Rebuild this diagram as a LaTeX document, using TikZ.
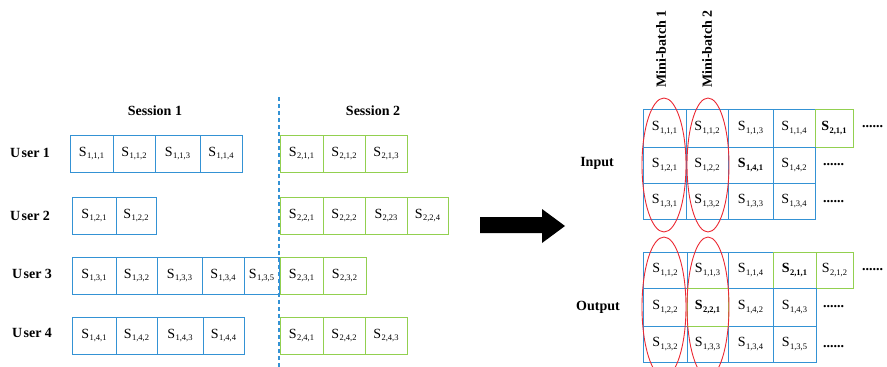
\documentclass[tikz,border=0pt]{standalone}
\usepackage{fontspec}
\setmainfont{Liberation Serif}
\usetikzlibrary{shapes.geometric}
\definecolor{cblue}{RGB}{52,146,212}
\definecolor{cgreen}{RGB}{146,208,80}
\definecolor{cred}{RGB}{235,40,50}

% item label: S with a lowered index triple
\newcommand\sq[1]{S\kern0.3pt\raisebox{-2.4pt}{\fontsize{8.5}{9}\selectfont #1}}
% cell: name, x-left, x-right, y-top, y-bottom, style, index
\newcommand\cellat[7]{%
  \node[#6, minimum width={(#3-#2)*1pt}, minimum height={(#5-#4)*1pt}]
    (#1) at ({(#2+#3)/2},{(#4+#5)/2}) {\sq{#7}};}

\tikzset{
  cellbase/.style={inner sep=0pt, line width=1pt, font=\fontsize{14}{16}\selectfont},
  bc/.style={cellbase, draw=cblue},
  gc/.style={cellbase, draw=cgreen},
  bcb/.style={bc, font=\fontsize{14}{16}\selectfont\bfseries},
  gcb/.style={gc, font=\fontsize{14}{16}\selectfont\bfseries},
  lbl/.style={font=\fontsize{14}{16}\selectfont\bfseries, inner sep=0pt},
  dots/.style={font=\fontsize{14}{16}\selectfont\bfseries, inner sep=0pt, anchor=base west},
  batch/.style={draw=cred, line width=0.9pt},
}

\begin{document}
\begin{tikzpicture}[x=1pt, y=-1pt]
\useasboundingbox (0,0) rectangle (887,367);

% ---------- sessions per user ----------
\node[lbl] (ses1) at (155,111) {Session 1};
\node[lbl] (ses2) at (373,111) {Session 2};

\node[lbl] (user1) at (30,153) {U\kern1.5pt ser 1};
\node[lbl] (user2) at (30,216) {U\kern1.5pt ser 2};
\node[lbl] (user3) at (32,274) {U\kern1.5pt ser 3};
\node[lbl] (user4) at (32,333) {U\kern1.5pt ser 4};

% user 1
\cellat{a111}{70}{113}{135}{172}{bc}{1,1,1}
\cellat{a112}{113}{155}{135}{172}{bc}{1,1,2}
\cellat{a113}{155}{200}{135}{172}{bc}{1,1,3}
\cellat{a114}{200}{242}{135}{172}{bc}{1,1,4}
\cellat{a211}{280}{323}{135}{172}{gc}{2,1,1}
\cellat{a212}{323}{365}{135}{172}{gc}{2,1,2}
\cellat{a213}{365}{407}{135}{172}{gc}{2,1,3}
% user 2
\cellat{a121}{72}{116}{197}{234}{bc}{1,2,1}
\cellat{a122}{116}{156}{197}{234}{bc}{1,2,2}
\cellat{a221}{280}{323}{197}{234}{gc}{2,2,1}
\cellat{a222}{323}{365}{197}{234}{gc}{2,2,2}
\cellat{a223}{365}{407}{197}{234}{gc}{2,23}
\cellat{a224}{407}{448}{197}{234}{gc}{2,2,4}
% user 3
\cellat{a131}{72}{116}{257}{294}{bc}{1,3,1}
\cellat{a132}{116}{157}{257}{294}{bc}{1,3,2}
\cellat{a133}{157}{202}{257}{294}{bc}{1,3,3}
\cellat{a134}{202}{244}{257}{294}{bc}{1,3,4}
\cellat{a135}{244}{279}{257}{294}{bc}{1,3,5}
\cellat{a231}{280}{323}{257}{294}{gc}{2,3,1}
\cellat{a232}{323}{366}{257}{294}{gc}{2,3,2}
% user 4
\cellat{a141}{72}{116}{317}{354}{bc}{1,4,1}
\cellat{a142}{116}{157}{317}{354}{bc}{1,4,2}
\cellat{a143}{157}{203}{317}{354}{bc}{1,4,3}
\cellat{a144}{203}{244}{317}{354}{bc}{1,4,4}
\cellat{a241}{280}{323}{317}{354}{gc}{2,4,1}
\cellat{a242}{323}{365}{317}{354}{gc}{2,4,2}
\cellat{a243}{365}{407}{317}{354}{gc}{2,4,3}

% session boundary
\coordinate (sepTop) at (279,97);
\coordinate (sepBot) at (279,367);
\draw[cblue, line width=1.2pt, dash pattern=on 4pt off 3pt] (sepTop) -- (sepBot);

% ---------- transition arrow ----------
\fill[black] (480,217) -- (542,217) -- (542,209) -- (565,226) -- (542,243)
  -- (542,233) -- (480,233) -- cycle;

% ---------- mini-batch input ----------
\node[lbl] (inlbl) at (597,163) {Input};
\cellat{b111}{643}{686}{109}{147}{bc}{1,1,1}
\cellat{b112}{686}{728}{109}{147}{bc}{1,1,2}
\cellat{b113}{728}{773}{109}{147}{bc}{1,1,3}
\cellat{b114}{773}{815}{109}{147}{bc}{1,1,4}
\cellat{b211}{815}{853}{109}{147}{gcb}{2,1,1}
\cellat{b121}{643}{686}{147}{183}{bc}{1,2,1}
\cellat{b122}{686}{728}{147}{183}{bc}{1,2,2}
\cellat{b141}{728}{773}{147}{183}{bcb}{1,4,1}
\cellat{b142}{773}{815}{147}{183}{bc}{1,4,2}
\cellat{b131}{643}{686}{183}{219}{bc}{1,3,1}
\cellat{b132}{686}{728}{183}{219}{bc}{1,3,2}
\cellat{b133}{728}{773}{183}{219}{bc}{1,3,3}
\cellat{b134}{773}{815}{183}{219}{bc}{1,3,4}
\node[dots] (bd1) at (862,127) {......};
\node[dots] (bd2) at (823,165) {......};
\node[dots] (bd3) at (823,202) {......};

% ---------- mini-batch output ----------
\node[lbl] (outlbl) at (598,307) {Output};
\cellat{c112}{643}{687}{252}{288}{bc}{1,1,2}
\cellat{c113}{687}{728}{252}{288}{bc}{1,1,3}
\cellat{c114}{728}{773}{252}{288}{bc}{1,1,4}
\cellat{c211}{773}{816}{252}{288}{gcb}{2,1,1}
\cellat{c212}{816}{853}{252}{288}{gc}{2,1,2}
\cellat{c122}{643}{687}{288}{326}{bc}{1,2,2}
\cellat{c142}{728}{773}{288}{326}{bc}{1,4,2}
\cellat{c143}{773}{816}{288}{326}{bc}{1,4,3}
\cellat{c132}{643}{687}{326}{362}{bc}{1,3,2}
\cellat{c133}{687}{728}{326}{362}{bc}{1,3,3}
\cellat{c134}{728}{773}{326}{362}{bc}{1,3,4}
\cellat{c135}{773}{816}{326}{362}{bc}{1,3,5}
\cellat{c221}{687}{728}{288}{326}{gcb}{2,2,1}
\node[dots] (cd1) at (862,270) {......};
\node[dots] (cd2) at (823,307) {......};
\node[dots] (cd3) at (823,347) {......};

% ---------- mini-batch columns ----------
\node[lbl, rotate=90] (mb1) at (661,49) {Mini-batch 1};
\node[lbl, rotate=90] (mb2) at (707,49) {Mini-batch 2};
\draw[batch] (664,165) ellipse [x radius=22pt, y radius=67pt];
\draw[batch] (708,165) ellipse [x radius=21pt, y radius=67pt];
\draw[batch] (664,307) ellipse [x radius=22pt, y radius=70pt];
\draw[batch] (708,307) ellipse [x radius=21pt, y radius=70pt];
\end{tikzpicture}
\end{document}
